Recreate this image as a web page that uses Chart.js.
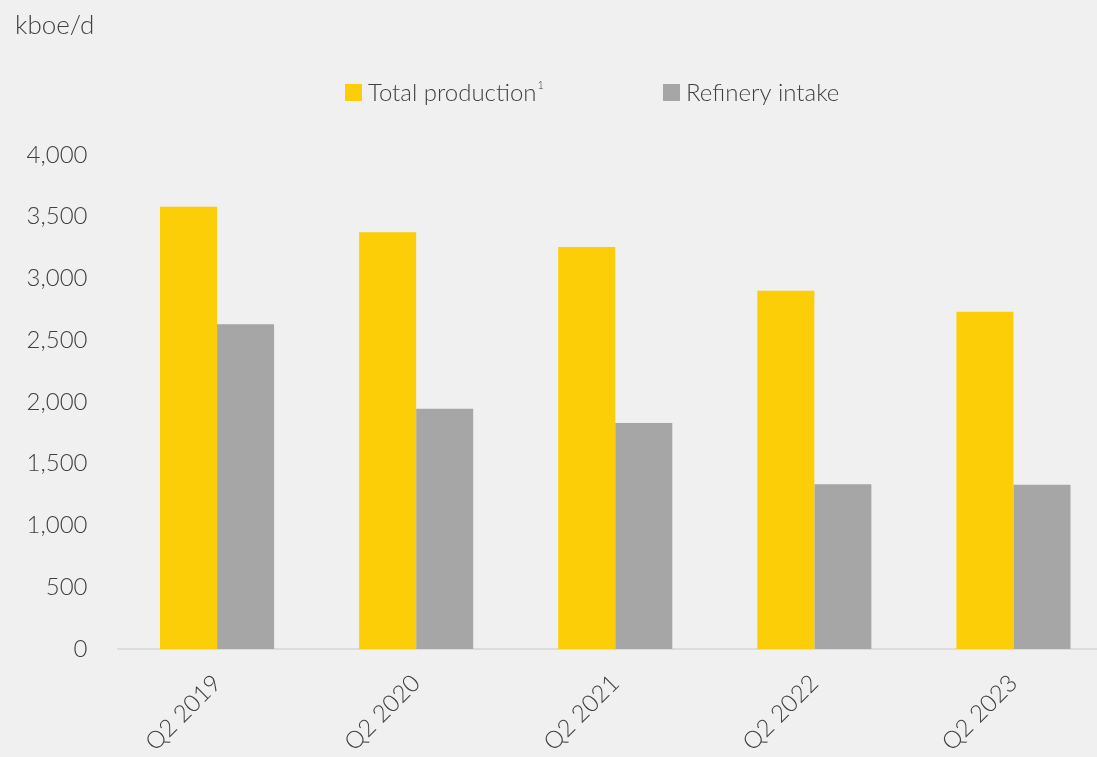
<!DOCTYPE html>
<html>
<head>
<meta charset="utf-8">
<script src="https://cdn.jsdelivr.net/npm/chart.js@4.4.1/dist/chart.umd.min.js"></script>
<style>
  html, body { margin: 0; padding: 0; background: #f0f0f0; overflow: hidden; }
  #wrap { position: relative; width: 1113px; height: 757px; }
</style>
</head>
<body>
<div id="wrap"><canvas id="myChart"></canvas></div>
<script>
const categories = ["Q2 2019", "Q2 2020", "Q2 2021", "Q2 2022", "Q2 2023"];
const totalProduction = [3580, 3375, 3255, 2900, 2730];
const refineryIntake = [2630, 1945, 1830, 1335, 1330];
const yTicks = [0, 500, 1000, 1500, 2000, 2500, 3000, 3500, 4000];

const FONT = "Lato, 'Open Sans', sans-serif";
const TXT = "#404040";

// legend + unit label drawn by hand (needs the superscript)
const extras = {
  id: "extras",
  afterDraw(chart) {
    const ctx = chart.ctx;
    ctx.save();
    ctx.fillStyle = TXT;
    ctx.textBaseline = "middle";
    ctx.textAlign = "left";
    ctx.font = "300 26px " + FONT;
    ctx.fillText("kboe/d", 15, 26);

    const items = [
      { x: 345, label: "Total production", sup: "1", color: "#fbce07" },
      { x: 663, label: "Refinery intake", sup: "", color: "#a6a6a6" },
    ];
    items.forEach((it) => {
      ctx.fillStyle = it.color;
      ctx.fillRect(it.x, 84, 17, 17);
      ctx.fillStyle = TXT;
      ctx.font = "300 24px " + FONT;
      ctx.fillText(it.label, it.x + 23, 93);
      if (it.sup) {
        const w = ctx.measureText(it.label).width;
        ctx.font = "300 11px " + FONT;
        ctx.fillText(it.sup, it.x + 24 + w, 85);
      }
    });
    ctx.restore();
  },
};

const ctx = document.getElementById("myChart").getContext("2d");
new Chart(ctx, {
  type: "bar",
  data: {
    labels: categories,
    datasets: [
      {
        label: "Total production",
        data: totalProduction,
        backgroundColor: "#fbce07",
        barPercentage: 1,
        categoryPercentage: 0.573,
      },
      {
        label: "Refinery intake",
        data: refineryIntake,
        backgroundColor: "#a6a6a6",
        barPercentage: 1,
        categoryPercentage: 0.573,
      },
    ],
  },
  options: {
    responsive: true,
    maintainAspectRatio: false,
    animation: false,
    layout: { padding: { top: 155, left: 0, right: 0, bottom: 0 } },
    plugins: {
      legend: { display: false },
      tooltip: { enabled: false },
    },
    scales: {
      x: {
        grid: { display: false, drawTicks: false },
        border: { display: true, color: "#dcdcdc", width: 2 },
        ticks: {
          color: TXT,
          font: { family: FONT, size: 24, weight: 300 },
          maxRotation: 45,
          minRotation: 45,
          padding: 20,
        },
        afterFit(scale) { scale.height = 108; },
      },
      y: {
        min: 0,
        max: 4000,
        afterBuildTicks(scale) { scale.ticks = yTicks.map((v) => ({ value: v })); },
        grid: { display: false, drawTicks: false },
        border: { display: false },
        ticks: {
          color: TXT,
          font: { family: FONT, size: 24, weight: 300 },
          padding: 30,
          callback: (v) => v.toLocaleString("en-US"),
        },
        afterFit(scale) { scale.width = 117.5; },
      },
    },
  },
  plugins: [extras],
});
</script>
</body>
</html>
